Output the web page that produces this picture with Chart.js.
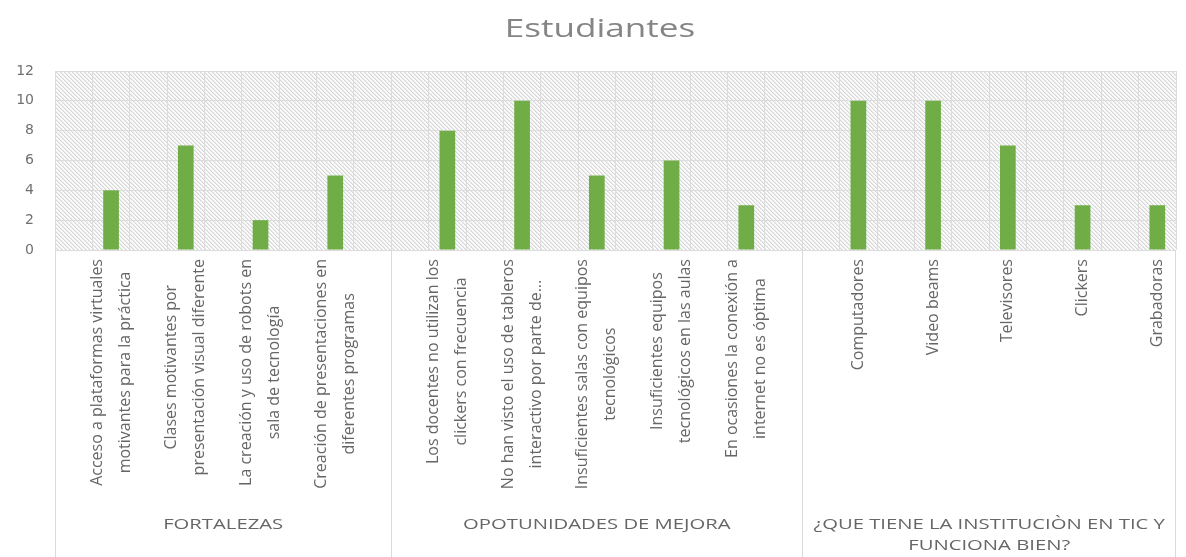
<!DOCTYPE html>
<html>
<head>
<meta charset="utf-8">
<script src="https://cdn.jsdelivr.net/npm/chart.js@4/dist/chart.umd.min.js"></script>
<style>
  html, body { margin: 0; padding: 0; background: #fff; }
  #wrap { width: 1186px; height: 557px; position: relative; }
</style>
</head>
<body>
<div id="wrap"><canvas id="myChart"></canvas></div>
<script>
var chartTitle = "Estudiantes";

var fortalezas = [
  ["Acceso a plataformas virtuales", "motivantes para la práctica"],
  ["Clases motivantes por", "presentación visual diferente"],
  ["La creación y uso de robots en", "sala de tecnología"],
  ["Creación de presentaciones en", "diferentes programas"]
];
var fortalezasValues = [4, 7, 2, 5];

var oportunidades = [
  ["Los docentes no utilizan los", "clickers con frecuencia"],
  ["No han visto el uso de tableros", "interactivo por parte de..."],
  ["Insuficientes salas con equipos", "tecnológicos"],
  ["Insuficientes equipos", "tecnológicos en las aulas"],
  ["En ocasiones la conexión a", "internet no es óptima"]
];
var oportunidadesValues = [8, 10, 5, 6, 3];

var institucion = ["Computadores", "Video beams", "Televisores", "Clickers", "Grabadoras"];
var institucionValues = [10, 10, 7, 3, 3];

var groupNames = [
  ["FORTALEZAS"],
  ["OPOTUNIDADES DE MEJORA"],
  ["¿QUE TIENE LA INSTITUCIÒN EN TIC Y", "FUNCIONA BIEN?"]
];

// the sheet has an empty row before every item, and one closing the first two blocks
var sections = [
  { items: fortalezas, values: fortalezasValues, closingGap: true },
  { items: oportunidades, values: oportunidadesValues, closingGap: true },
  { items: institucion, values: institucionValues, closingGap: false }
];

var labels = [], values = [], spans = [];
sections.forEach(function (sec) {
  var start = labels.length;
  sec.items.forEach(function (item, i) {
    labels.push("");
    values.push(null);
    labels.push(item);
    values.push(sec.values[i]);
  });
  if (sec.closingGap) {
    labels.push("");
    values.push(null);
  }
  spans.push([start, labels.length - 1]);
});

// light "\" hatch for the plot background, drawn pixel by pixel so it stays crisp
function hatchPattern(ctx) {
  var s = 4;
  var c = document.createElement("canvas");
  c.width = s;
  c.height = s;
  var p = c.getContext("2d");
  p.fillStyle = "#fbfbfb";
  p.fillRect(0, 0, s, s);
  for (var i = 0; i < s; i++) {
    p.fillStyle = "#d6d6d6";
    p.fillRect(i, i, 1, 1);
    p.fillStyle = "#ebebeb";
    p.fillRect((i + 1) % s, i, 1, 1);
  }
  return ctx.createPattern(c, "repeat");
}

// text that is a bit wider than the font gives
function wideText(ctx, text, x, y, k) {
  ctx.save();
  ctx.translate(x, y);
  ctx.scale(k, 1);
  ctx.fillText(text, 0, 0);
  ctx.restore();
}

var decor = {
  id: "decor",
  beforeDraw: function (chart) {
    var ctx = chart.ctx, a = chart.chartArea;
    ctx.save();
    ctx.fillStyle = "#ffffff";
    ctx.fillRect(0, 0, chart.width, chart.height);
    ctx.fillStyle = hatchPattern(ctx);
    ctx.fillRect(a.left, a.top, a.right - a.left, a.bottom - a.top);
    ctx.restore();
  },
  afterDraw: function (chart) {
    var ctx = chart.ctx, a = chart.chartArea, xs = chart.scales.x;
    var slot = xs.getPixelForValue(1) - xs.getPixelForValue(0);
    ctx.save();

    // title
    ctx.fillStyle = "#858585";
    ctx.font = '26px "Open Sans"';
    ctx.textAlign = "center";
    ctx.textBaseline = "alphabetic";
    wideText(ctx, chartTitle, 600, 37, 1.35);

    // category labels, rotated, lines centred on the bar
    ctx.fillStyle = "#666666";
    ctx.font = '16px "Open Sans"';
    ctx.textBaseline = "middle";
    labels.forEach(function (lab, i) {
      if (!lab) return;
      var lines = Array.isArray(lab) ? lab : [lab];
      var maxW = Math.max.apply(null, lines.map(function (l) { return ctx.measureText(l).width; }));
      ctx.save();
      ctx.translate(xs.getPixelForValue(i), a.bottom + 9 + maxW / 2);
      ctx.rotate(-Math.PI / 2);
      lines.forEach(function (l, j) {
        ctx.fillText(l, 0, (j - (lines.length - 1) / 2) * 28);
      });
      ctx.restore();
    });

    // group dividers and names
    ctx.strokeStyle = "#d9d9d9";
    ctx.lineWidth = 1;
    ctx.beginPath();
    spans.forEach(function (sp, g) {
      var x0 = Math.round(xs.getPixelForValue(sp[0]) - slot / 2) + 0.5;
      ctx.moveTo(x0, a.bottom);
      ctx.lineTo(x0, chart.height);
      if (g === spans.length - 1) {
        var x1 = Math.round(xs.getPixelForValue(sp[1]) + slot / 2) - 0.5;
        ctx.moveTo(x1, a.bottom);
        ctx.lineTo(x1, chart.height);
      }
    });
    ctx.stroke();

    ctx.font = '15px "Open Sans"';
    ctx.fillStyle = "#666666";
    spans.forEach(function (sp, g) {
      var cx = (xs.getPixelForValue(sp[0]) + xs.getPixelForValue(sp[1])) / 2;
      groupNames[g].forEach(function (t, j) {
        wideText(ctx, t, cx, a.bottom + 275 + j * 21, 1.35);
      });
    });
    ctx.restore();
  }
};

var config = {
  type: "bar",
  data: {
    labels: labels,
    datasets: [
      {
        data: values,
        backgroundColor: "#70ad47",
        borderWidth: 0,
        barPercentage: 0.42,
        categoryPercentage: 1
      }
    ]
  },
  options: {
    responsive: true,
    maintainAspectRatio: false,
    animation: false,
    layout: { padding: { top: 71, right: 10, bottom: 0, left: 0 } },
    plugins: {
      legend: { display: false },
      title: { display: false },
      tooltip: { enabled: false }
    },
    scales: {
      x: {
        offset: true,
        grid: { offset: true, color: "#dcdcdc", drawTicks: false },
        border: { display: false },
        ticks: { display: false },
        afterFit: function (s) { s.height = 307; }
      },
      y: {
        min: 0,
        max: 12,
        ticks: {
          stepSize: 2,
          padding: 21,
          color: "#707070",
          font: { family: "DejaVu Sans", size: 14 }
        },
        grid: { color: "#dcdcdc", drawTicks: false },
        border: { display: false },
        afterFit: function (s) { s.width = 55; }
      }
    }
  },
  plugins: [decor]
};

var myChart = new Chart(document.getElementById("myChart"), config);
</script>
</body>
</html>
